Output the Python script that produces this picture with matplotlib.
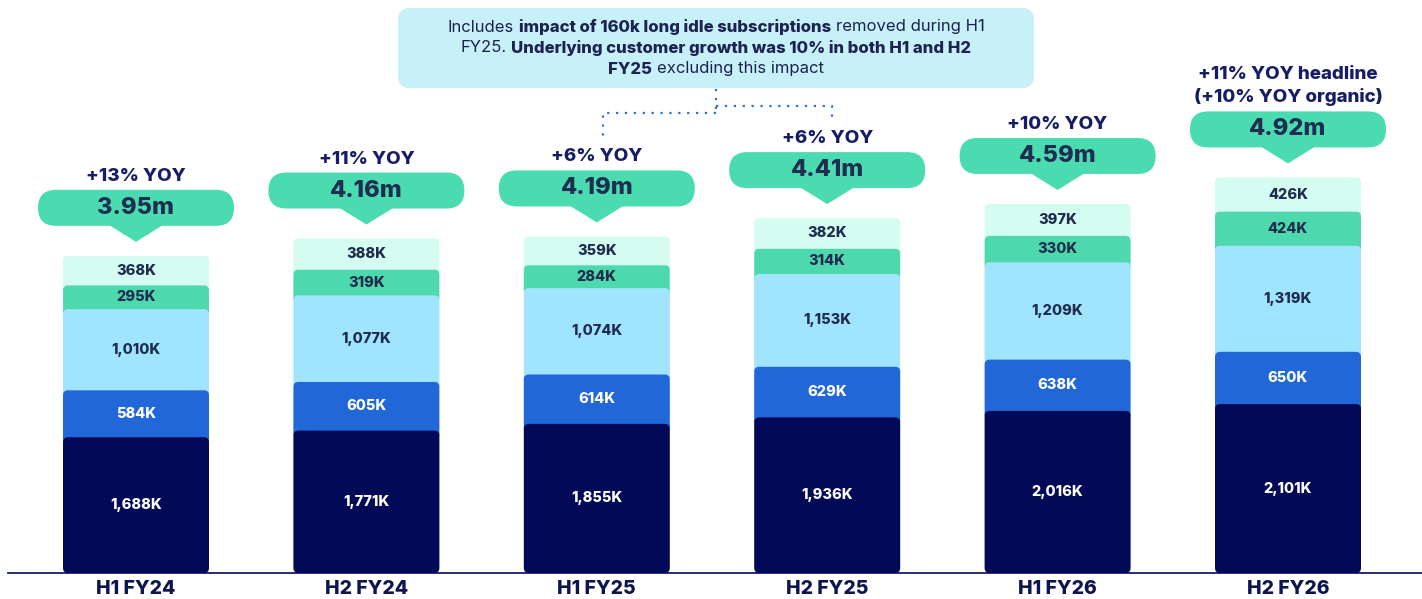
import matplotlib.pyplot as plt
import numpy as np
from matplotlib.patches import FancyBboxPatch, Polygon

plt.rcParams['font.family'] = ['Inter', 'DejaVu Sans']

# data (thousands of customers)
periods = ['H1 FY24', 'H2 FY24', 'H1 FY25', 'H2 FY25', 'H1 FY26', 'H2 FY26']
seg_base = [1688, 1771, 1855, 1936, 2016, 2101]
seg_second = [584, 605, 614, 629, 638, 650]
seg_third = [1010, 1077, 1074, 1153, 1209, 1319]
seg_fourth = [295, 319, 284, 314, 330, 424]
seg_top = [368, 388, 359, 382, 397, 426]
total_labels = ['3.95m', '4.16m', '4.19m', '4.41m', '4.59m', '4.92m']
yoy_labels = ['+13% YOY', '+11% YOY', '+6% YOY', '+6% YOY', '+10% YOY',
              '+11% YOY headline\n(+10% YOY organic)']

seg_colors = ['#020a57', '#2267d8', '#a0e5fd', '#4dd9ad', '#d5fcf0']
seg_text = ['white', 'white', '#1f2c4f', '#1f2c4f', '#1f2c4f']
navy = '#161c66'
pill_green = '#4bdbb0'
HEAVY = 800

W, H = 1422, 599
fig = plt.figure(figsize=(W / 100, H / 100), dpi=100)
ax = fig.add_axes([0, 0, 1, 1])

# pixel scale of the original layout
PXX = 230.4      # px per category step
PXY = 0.0804     # px per thousand
x0_px, base_px = 136, 573
ax.set_xlim(-x0_px / PXX, (W - x0_px) / PXX)
ax.set_ylim(-(H - base_px) / PXY, base_px / PXY)
ax.axis('off')


def dx(p):
    return p / PXX


def dy(p):
    return p / PXY


def px(xp, yp):
    return (xp - x0_px) / PXX, (base_px - yp) / PXY


asp = PXX / PXY
x = np.arange(len(periods))
bw = dx(146)
segments = [seg_base, seg_second, seg_third, seg_fourth, seg_top]
totals = np.sum(segments, axis=0)

ax.plot([dx(8 - x0_px), dx(W - x0_px)], [0, 0], color=navy, lw=1.3, zorder=1)

for i in x:
    bottom = 0
    for k, seg in enumerate(segments):
        h = seg[i]
        ext = 0 if k == 0 else dy(8)
        p = FancyBboxPatch((i - bw / 2, bottom - ext), bw, h + ext,
                           boxstyle='round,pad=0,rounding_size=%f' % dx(5),
                           mutation_aspect=asp, fc=seg_colors[k], ec='none',
                           zorder=10 - k)
        ax.add_patch(p)
        ax.text(i, bottom + h / 2, f'{h:,}K', ha='center', va='center',
                fontsize=10.5, fontweight=HEAVY, color=seg_text[k], zorder=20)
        bottom += h

    top = totals[i]
    # pill with pointer
    pc = top + dy(48)
    pw, ph = dx(196), dy(36)
    pill = FancyBboxPatch((i - pw / 2, pc - ph / 2), pw, ph,
                          boxstyle='round,pad=0,rounding_size=%f' % dx(18),
                          mutation_aspect=asp, fc=pill_green, ec='none', zorder=20)
    ax.add_patch(pill)
    tri = Polygon([(i - dx(29), pc - ph / 2 + dy(2)), (i + dx(29), pc - ph / 2 + dy(2)),
                   (i, top + dy(14))], closed=True, fc=pill_green, ec='none', zorder=20)
    ax.add_patch(tri)
    ax.text(i, pc, total_labels[i], ha='center', va='center', fontsize=17,
            fontweight=HEAVY, color='#1e2d50', zorder=25)
    ax.text(i, top + dy(71), yoy_labels[i], ha='center', va='bottom', fontsize=13.5,
            fontweight=HEAVY, color=navy, linespacing=1.4, zorder=25)

    ax.text(i, dy(-16), periods[i], ha='center', va='center', fontsize=14,
            fontweight=HEAVY, color='#0d1450')

# annotation box
bx0, by0 = px(398, 88)
bx1, by1 = px(1034, 8)
box = FancyBboxPatch((bx0, by0), bx1 - bx0, by1 - by0,
                     boxstyle='round,pad=0,rounding_size=%f' % dx(12),
                     mutation_aspect=asp, fc='#c8f0f9', ec='none', zorder=5)
ax.add_patch(box)

note_lines = [
    [('Includes', False), ('impact of 160k long idle subscriptions', True), ('removed during H1', False)],
    [('FY25.', False), ('Underlying customer growth was 10% in both H1 and H2', True)],
    [('FY25', True), ('excluding this impact', False)],
]
note_y = [27, 48, 69]
fig.canvas.draw()
rend = fig.canvas.get_renderer()


def text_w(s, bold):
    t = ax.text(0, 0, s, fontsize=12, fontweight=HEAVY if bold else 'normal')
    w = t.get_window_extent(rend).width
    t.remove()
    return w


space_w = text_w('x x', False) - text_w('xx', False)
for parts, yp in zip(note_lines, note_y):
    widths = [text_w(s, b) for s, b in parts]
    total_w = sum(widths) + space_w * (len(parts) - 1)
    xc, yc = px(716, yp)
    xs = xc - dx(total_w / 2)
    for (s, b), w in zip(parts, widths):
        ax.text(xs, yc, s, ha='left', va='center', fontsize=12,
                fontweight=HEAVY if b else 'normal', color='#1b2350', zorder=30)
        xs += dx(w + space_w)

# dotted connectors
dot = dict(color='#2e6fd8', lw=1.6, linestyle=(0, (1, 3)), zorder=6)
jx, jy_top = px(716, 89)
_, jy_left = px(716, 113)
_, jy_right = px(716, 106)
ax.plot([jx, jx], [jy_top, jy_left], **dot)
ax.plot([jx, 2 + dx(6), 2 + dx(6)], [jy_left, jy_left, totals[2] + dy(99)], **dot)
ax.plot([jx, 3 + dx(5), 3 + dx(5)], [jy_right, jy_right, totals[3] + dy(96)], **dot)

fig.savefig('out.png', dpi=100)
